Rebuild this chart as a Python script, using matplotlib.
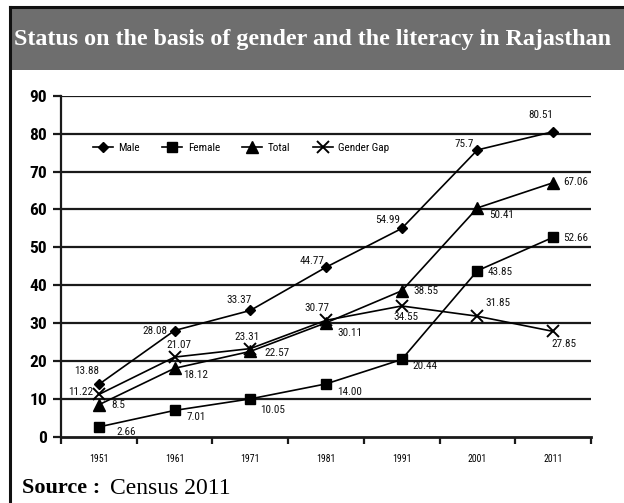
import matplotlib
matplotlib.use("Agg")
import matplotlib.pyplot as plt
from matplotlib.patches import Rectangle
from matplotlib.lines import Line2D
from matplotlib import font_manager as fm

years = ["1951", "1961", "1971", "1981", "1991", "2001", "2011"]
male = [13.88, 28.08, 33.37, 44.77, 54.99, 75.7, 80.51]
female = [2.66, 7.01, 10.05, 14.00, 20.44, 43.85, 52.66]
total = [8.5, 18.12, 22.57, 30.11, 38.55, 60.41, 67.06]
gap = [11.22, 21.07, 23.31, 30.77, 34.55, 31.85, 27.85]

male_lbl = ["13.88", "28.08", "33.37", "44.77", "54.99", "75.7", "80.51"]
female_lbl = ["2.66", "7.01", "10.05", "14.00", "20.44", "43.85", "52.66"]
total_lbl = ["8.5", "18.12", "22.57", "30.11", "38.55", "50.41", "67.06"]
gap_lbl = ["11.22", "21.07", "23.31", "30.77", "34.55", "31.85", "27.85"]

yticks = [0, 10, 20, 30, 40, 50, 60, 70, 80, 90]

names = sorted({f.name for f in fm.fontManager.ttflist})
cond = None
for cand in ["Liberation Sans Narrow", "Roboto Condensed", "DejaVu Sans Condensed",
             "Open Sans Condensed", "Noto Sans Condensed"]:
    if cand in names:
        cond = cand
        break
if cond is None:
    cond = "DejaVu Sans"


def nfont(size, weight="normal"):
    return fm.FontProperties(family=[cond, "DejaVu Sans"], size=size, weight=weight,
                             stretch="condensed")


SERIF = ["Liberation Serif", "DejaVu Serif"]

fig = plt.figure(figsize=(6.24, 5.03), dpi=100)
fig.patch.set_facecolor("white")

fig.patches.append(Rectangle((11/624, (503-70)/503), 1, 62/503, transform=fig.transFigure,
                             facecolor="#6e6e6e", edgecolor="none", zorder=0))
fig.lines.append(Line2D([10/624, 10/624], [0, (503-7)/503], transform=fig.transFigure,
                        color="#111111", lw=2.2))
fig.lines.append(Line2D([10/624, 1], [(503-7)/503, (503-7)/503], transform=fig.transFigure,
                        color="#111111", lw=2.2))
fig.text(313/624, (503-40)/503, "Status on the basis of gender and the literacy in Rajasthan",
         family=SERIF, weight="bold", fontsize=17.3, color="white", ha="center", va="center")
fig.text(22/624, (503-488)/503, "Source :", family=SERIF, weight="bold", fontsize=16,
         ha="left", va="center")
fig.text(110/624, (503-488)/503, "Census 2011", family=SERIF, fontsize=17,
         ha="left", va="center")

ax = fig.add_axes([61/624, (503-437)/503, 530/624, 341.3/503])
x = list(range(len(years)))

lw = 1.2
ax.plot(x, male, color="black", lw=lw, marker="D", markersize=5, label="Male", zorder=3)
ax.plot(x, female, color="black", lw=lw, marker="s", markersize=7.5, label="Female", zorder=3)
ax.plot(x, total, color="black", lw=lw, marker="^", markersize=8, label="Total", zorder=3)
ax.plot(x, gap, color="black", lw=lw, marker="x", markersize=8, mew=1.4, label="Gender Gap", zorder=3)

offs = {
    "male": [(-12, 13), (-20, 0), (-11, 10), (-14, 6), (-14, 8), (-13, 6), (-12, 17)],
    "female": [(27, -5), (22, -7), (22, -11), (24, -8), (23, -7), (23, -1), (23, -1)],
    "total": [(19, 0), (21, -7), (27, -2), (24, -10), (24, 0), (24, -7), (23, 1)],
    "gap": [(-18, 2), (4, 12), (-3, 12), (-9, 12), (4, -11), (20, 13), (11, -13)],
}
for key, vals, lbls in [("male", male, male_lbl), ("female", female, female_lbl),
                        ("total", total, total_lbl), ("gap", gap, gap_lbl)]:
    for i, (v, t) in enumerate(zip(vals, lbls)):
        dx, dy = offs[key][i]
        ax.annotate(t, (i, v), xytext=(dx, dy), textcoords="offset pixels",
                    ha="center", va="center", fontproperties=nfont(8), color="#111111")

ax.set_xlim(-0.5, 6.5)
ax.set_ylim(0, 90)
ax.set_yticks(yticks)
ax.set_yticklabels([str(v) for v in yticks], fontproperties=nfont(12.5, "bold"))
for yv in yticks[1:]:
    ax.axhline(yv, color="#1a1a1a", lw=1.6, zorder=1)

ax.set_xticks(x)
ax.set_xticklabels(years, fontproperties=nfont(7))
ax.set_xticks([i - 0.5 for i in range(len(years) + 1)], minor=True)
ax.tick_params(axis="x", which="major", length=0, pad=12)
ax.tick_params(axis="x", which="minor", length=5, width=1.6, direction="out", color="#1a1a1a")
ax.tick_params(axis="y", length=6, width=1.6, direction="out", pad=4, color="#1a1a1a")

for s in ["top", "right"]:
    ax.spines[s].set_visible(False)
ax.spines["left"].set_linewidth(1.6)
ax.spines["bottom"].set_linewidth(2)
ax.spines["left"].set_color("#1a1a1a")
ax.spines["bottom"].set_color("#1a1a1a")
ax.set_facecolor("none")

leg = ax.legend(loc="center", bbox_to_anchor=(0.34, 0.848), ncol=4, frameon=False,
                prop=nfont(8), handlelength=1.8, columnspacing=2.0,
                handletextpad=0.5)

fig.savefig("out.png", dpi=100)
